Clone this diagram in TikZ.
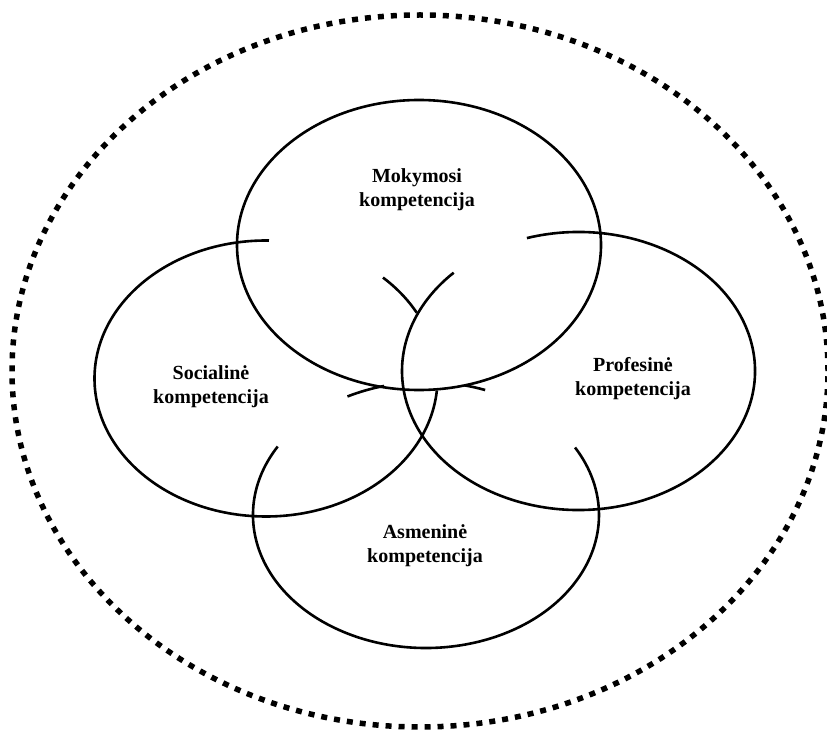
\documentclass[tikz,border=0pt]{standalone}
\usepackage{fontspec}
\setmainfont{Liberation Serif}
\usetikzlibrary{calc}

\begin{document}
\begin{tikzpicture}[x=1pt,y=1pt,
    ring/.style={line width=2.6pt},
    halo/.style={line width=5.5pt,dash pattern=on 6pt off 7pt},
    tag/.style={align=center,font=\fontsize{20}{24}\selectfont\bfseries}]
  \useasboundingbox (0,0) rectangle (827,729);
  \coordinate (o) at (420,358);
  \coordinate (mok) at (419,484);
  \coordinate (soc) at (266,350.5);
  \coordinate (prof) at (578.5,358);
  \coordinate (asm) at (426,214);
  % dotted frame
  \draw[halo] (o) ellipse [x radius=408,y radius=356];
  % the four rings
  \draw[ring] (mok) ellipse [x radius=182,y radius=145];
  \draw[ring] ([shift={(89:171.5 and 138)}]soc) arc[start angle=89,end angle=355,x radius=171.5,y radius=138];
  \draw[ring] ([shift={(28.5:171.5 and 138)}]soc) arc[start angle=28.5,end angle=47,x radius=171.5,y radius=138];
  \draw[ring] ([shift={(107:176.5 and 139)}]prof) arc[start angle=107,end angle=-225,x radius=176.5,y radius=139];
  \draw[ring] ([shift={(149:173 and 133)}]asm) arc[start angle=149,end angle=390.5,x radius=173,y radius=133];
  \draw[ring] ([shift={(104:173 and 133)}]asm) arc[start angle=104,end angle=117,x radius=173,y radius=133];
  \draw[ring] ([shift={(70:173 and 133)}]asm) arc[start angle=70,end angle=77,x radius=173,y radius=133];
  % labels
  \node[tag] (mokt) at (417,539) {Mokymosi\\kompetencija};
  \node[tag] (soct) at (211,342) {Socialinė\\kompetencija};
  \node[tag] (proft) at (633,350) {Profesinė\\kompetencija};
  \node[tag] (asmt) at (425,183) {Asmeninė\\kompetencija};
\end{tikzpicture}
\end{document}
